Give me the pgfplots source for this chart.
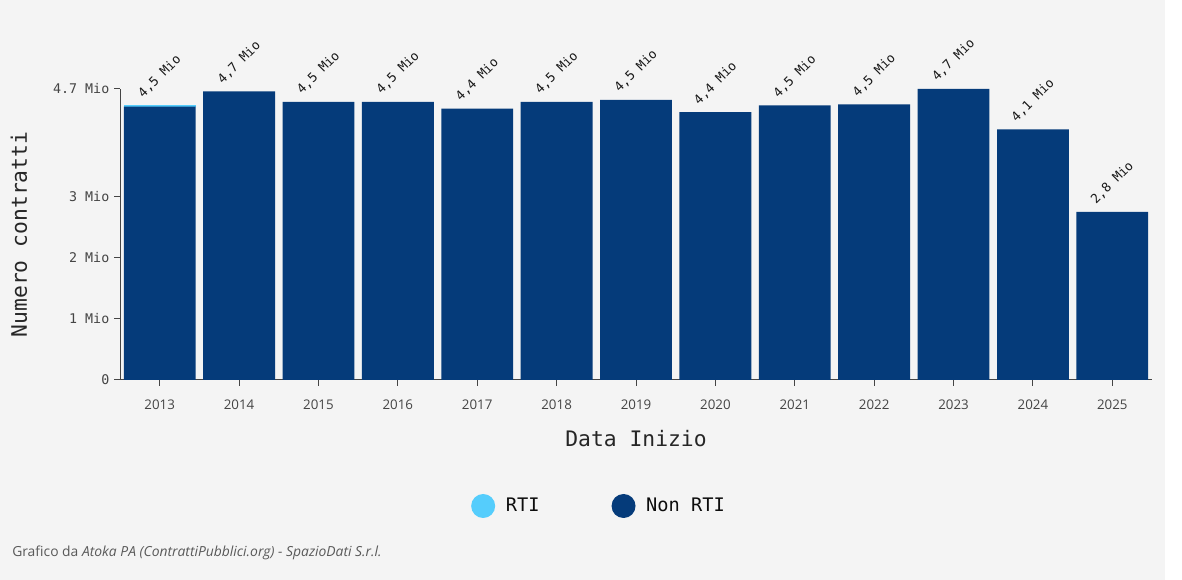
\documentclass[border=0pt]{standalone}
\usepackage{fontspec}
\setmainfont{Open Sans}
\setmonofont{DejaVu Sans Mono}
\usepackage{pgfplots}
\pgfplotsset{compat=1.18}
\definecolor{bgc}{HTML}{F4F4F4}
\definecolor{nonrti}{HTML}{053B7A}
\definecolor{rti}{HTML}{55CDFC}
\definecolor{axc}{HTML}{444444}
\pgfplotsset{common/.style={
  at={(90pt,150pt)}, anchor=south west,
  scale only axis, width=774pt, height=218.25pt,
  xmin=-0.5, xmax=12.5, ymin=0, ymax=4.76,
  bar width=0.905, clip=false}}
\begin{document}
\begin{tikzpicture}[x=0.75pt,y=0.75pt]
\useasboundingbox (0,0) rectangle (1182,580);
\fill[bgc] (0,0) rectangle (1165,580);
\fill[white] (1165,0) rectangle (1182,580);
\begin{axis}[
  common,
  ybar stacked,
  axis x line*=bottom, axis y line*=left,
  axis line style={axc, line width=0.75pt},
  xtick={0,1,2,3,4,5,6,7,8,9,10,11,12},
  xticklabels={2013,2014,2015,2016,2017,2018,2019,2020,2021,2022,2023,2024,2025},
  ytick={0,1,2,3,4.76},
  yticklabels={0,1 Mio,2 Mio,3 Mio,4.7 Mio},
  tick align=outside, major tick length=4.5pt,
  tick style={axc, line width=0.75pt},
  xticklabel style={font=\fontsize{10}{12}\selectfont, text=axc, yshift=-6.5pt},
  yticklabel style={font=\ttfamily\fontsize{10}{12}\selectfont, text=axc},
  xlabel={Data Inizio},
  ylabel={Numero contratti},
  xlabel style={font=\ttfamily\fontsize{16}{18}\selectfont, text=black!85, at={(axis description cs:0.5,-0.2027)}, anchor=center},
  ylabel style={font=\ttfamily\fontsize{16}{18}\selectfont, text=black!85, at={(axis description cs:-0.0979,0.50)}, anchor=center},
  legend style={at={(axis description cs:0.4645,-0.433)}, anchor=center, draw=none, fill=none,
    legend columns=2, font=\ttfamily\fontsize{14}{16}\selectfont, text=black!95,
    /tikz/every even column/.append style={column sep=52pt},
    /tikz/every odd column/.append style={column sep=6pt}},
  reverse legend,
  legend image code/.code={\fill (0pt,0pt) circle (9pt);},
]
\addplot[fill=nonrti, draw=none] coordinates {
(0,4.47) (1,4.72) (2,4.55) (3,4.55) (4,4.44) (5,4.55) (6,4.58) (7,4.38) (8,4.49) (9,4.51) (10,4.76) (11,4.10) (12,2.75)};
\addlegendentry{Non RTI}
\addplot[fill=rti, draw=none] coordinates {
(0,0.02) (1,0) (2,0) (3,0) (4,0) (5,0) (6,0) (7,0) (8,0) (9,0) (10,0) (11,0) (12,0)};
\addlegendentry{RTI}
\end{axis}
\begin{axis}[common, hide axis, ybar, bar shift=0pt]
\addplot[draw=none, fill=none, nodes near coords, point meta=explicit symbolic,
  every node near coord/.append style={font=\ttfamily\fontsize{9.6}{11}\selectfont, text=black!90, anchor=center, yshift=21.75pt, rotate=45}]
  table[x=x, y=y, meta=lbl, col sep=semicolon] {
x;y;lbl
0;4.49;4,5 Mio
1;4.72;4,7 Mio
2;4.55;4,5 Mio
3;4.55;4,5 Mio
4;4.44;4,4 Mio
5;4.55;4,5 Mio
6;4.58;4,5 Mio
7;4.38;4,4 Mio
8;4.49;4,5 Mio
9;4.51;4,5 Mio
10;4.76;4,7 Mio
11;4.10;4,1 Mio
12;2.75;2,8 Mio
};
\end{axis}
\node[anchor=west, font=\fontsize{10.4}{12}\selectfont, text=black!65, inner sep=0pt] at (12,27) {Grafico da \textit{Atoka PA (ContrattiPubblici.org) - SpazioDati S.r.l.}};
\end{tikzpicture}
\end{document}
